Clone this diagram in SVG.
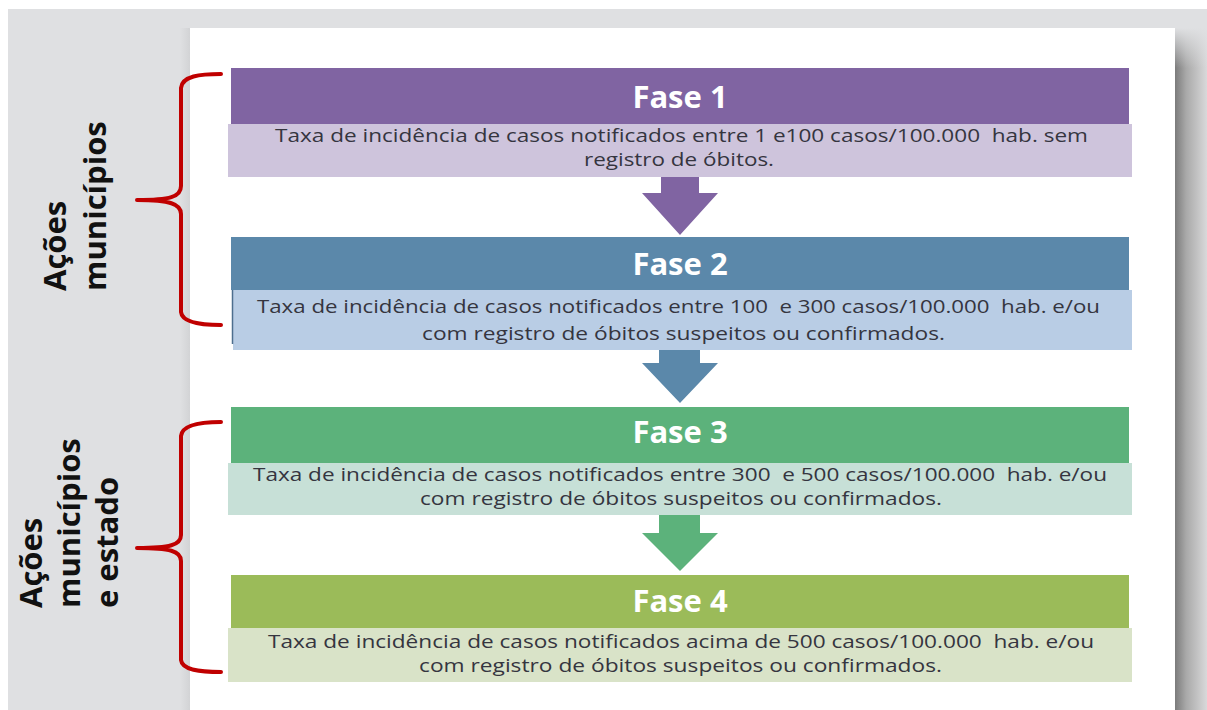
<svg xmlns="http://www.w3.org/2000/svg" width="1207" height="710" viewBox="0 0 1207 710">
  <defs>
    <linearGradient id="shadowR" x1="0" y1="0" x2="1" y2="0">
      <stop offset="0" stop-color="#7b7b7b"/>
      <stop offset="0.35" stop-color="#a9a9a9"/>
      <stop offset="1" stop-color="#d9d9da"/>
    </linearGradient>
    <linearGradient id="shadowTop" x1="0" y1="0" x2="0" y2="1">
      <stop offset="0" stop-color="#dfe0e2" stop-opacity="1"/>
      <stop offset="1" stop-color="#dfe0e2" stop-opacity="0"/>
    </linearGradient>
    <linearGradient id="shadowL" x1="0" y1="0" x2="1" y2="0">
      <stop offset="0" stop-color="#dfe0e2"/>
      <stop offset="1" stop-color="#d2d3d5"/>
    </linearGradient>
  </defs>
  <style>
    .title { font-family: "Open Sans", "Noto Sans", sans-serif; font-weight: 700; font-size: 31px; fill: #ffffff; text-anchor: middle; }
    .body { font-family: "Open Sans", "Noto Sans", sans-serif; font-size: 17.5px; fill: #35353f; white-space: pre; }
    .side { font-family: "Open Sans", "Noto Sans", sans-serif; font-weight: 700; font-size: 31px; fill: #111111; }
    .brace { fill: none; stroke: #c00000; stroke-width: 4; stroke-linecap: round; stroke-linejoin: round; }
  </style>

  <!-- background -->
  <rect x="0" y="0" width="1207" height="710" fill="#ffffff"/>
  <rect x="8" y="9" width="1199" height="701" fill="#dfe0e2"/>
  <rect x="180" y="28" width="10" height="682" fill="url(#shadowL)"/>
  <rect x="1175" y="28" width="32" height="682" fill="url(#shadowR)"/>
  <rect x="1175" y="28" width="32" height="40" fill="url(#shadowTop)"/>
  <rect x="190" y="28" width="985" height="682" fill="#ffffff"/>

  <!-- side labels -->
  <g id="label-municipios">
    <text class="side" transform="translate(66,291) rotate(-90)">Ações</text>
    <text class="side" transform="translate(106,291) rotate(-90)">municípios</text>
  </g>
  <g id="label-municipios-estado">
    <text class="side" transform="translate(42,608) rotate(-90)">Ações</text>
    <text class="side" transform="translate(80,608) rotate(-90)">municípios</text>
    <text class="side" transform="translate(118,608) rotate(-90)">e estado</text>
  </g>

  <!-- braces -->
  <g id="braces">
    <path class="brace" d="M221,74 C200,74 182,76 181,88 L181,186 C181,197 170,200 137,200 C170,200 181,204 181,214 L181,312 C182,322 200,325 221,325"/>
    <path class="brace" d="M221,422 C200,422 182,425 181,436 L181,535 C181,545 170,548 137,548 C170,548 181,551 181,561 L181,660 C182,670 200,672 221,672"/>
  </g>

  <!-- phase 1 -->
  <g id="fase1">
    <rect x="231" y="68" width="898" height="56" fill="#8064a2"/>
    <rect x="228" y="124" width="904" height="53" fill="#cec4dc"/>
    <text class="title" x="680" y="108">Fase 1</text>
    <text class="body" x="275" y="142" textLength="813" lengthAdjust="spacingAndGlyphs">Taxa de incidência de casos notificados entre 1 e100 casos/100.000  hab. sem</text>
    <text class="body" x="679" y="166" text-anchor="middle" textLength="190" lengthAdjust="spacingAndGlyphs">registro de óbitos.</text>
  </g>

  <!-- phase 2 -->
  <g id="fase2">
    <rect x="231" y="237" width="898" height="53" fill="#5b88aa"/>
    <rect x="233" y="290" width="899" height="60" fill="#b9cde5"/>
    <line x1="232.5" y1="290" x2="232.5" y2="344" stroke="#4d6e8e" stroke-width="1.5"/>
    <text class="title" x="680" y="275">Fase 2</text>
    <text class="body" x="257" y="313" textLength="843" lengthAdjust="spacingAndGlyphs">Taxa de incidência de casos notificados entre 100  e 300 casos/100.000  hab. e/ou</text>
    <text class="body" x="422" y="340" textLength="523" lengthAdjust="spacingAndGlyphs">com registro de óbitos suspeitos ou confirmados.</text>
  </g>

  <!-- phase 3 -->
  <g id="fase3">
    <rect x="231" y="407" width="898" height="56" fill="#5cb27b"/>
    <rect x="228" y="463" width="904" height="52" fill="#c7e0d7"/>
    <text class="title" x="680" y="443">Fase 3</text>
    <text class="body" x="253" y="481" textLength="854" lengthAdjust="spacingAndGlyphs">Taxa de incidência de casos notificados entre 300  e 500 casos/100.000  hab. e/ou</text>
    <text class="body" x="420" y="505" textLength="522" lengthAdjust="spacingAndGlyphs">com registro de óbitos suspeitos ou confirmados.</text>
  </g>

  <!-- phase 4 -->
  <g id="fase4">
    <rect x="231" y="575" width="898" height="53" fill="#9bbb59"/>
    <rect x="228" y="628" width="904" height="54" fill="#d9e3c8"/>
    <text class="title" x="680" y="612">Fase 4</text>
    <text class="body" x="268" y="648" textLength="826" lengthAdjust="spacingAndGlyphs">Taxa de incidência de casos notificados acima de 500 casos/100.000  hab. e/ou</text>
    <text class="body" x="419" y="672" textLength="523" lengthAdjust="spacingAndGlyphs">com registro de óbitos suspeitos ou confirmados.</text>
  </g>

  <!-- connectors -->
  <g id="connectors">
    <polygon points="661,177 699,177 699,193 718,193 680,235 642,193 661,193" fill="#8064a2"/>
    <polygon points="659,350 700,350 700,363 718,363 680,403 642,363 659,363" fill="#5b88aa"/>
    <polygon points="659,515 700,515 700,533 718,533 680,571 642,533 659,533" fill="#5cb27b"/>
  </g>
</svg>
